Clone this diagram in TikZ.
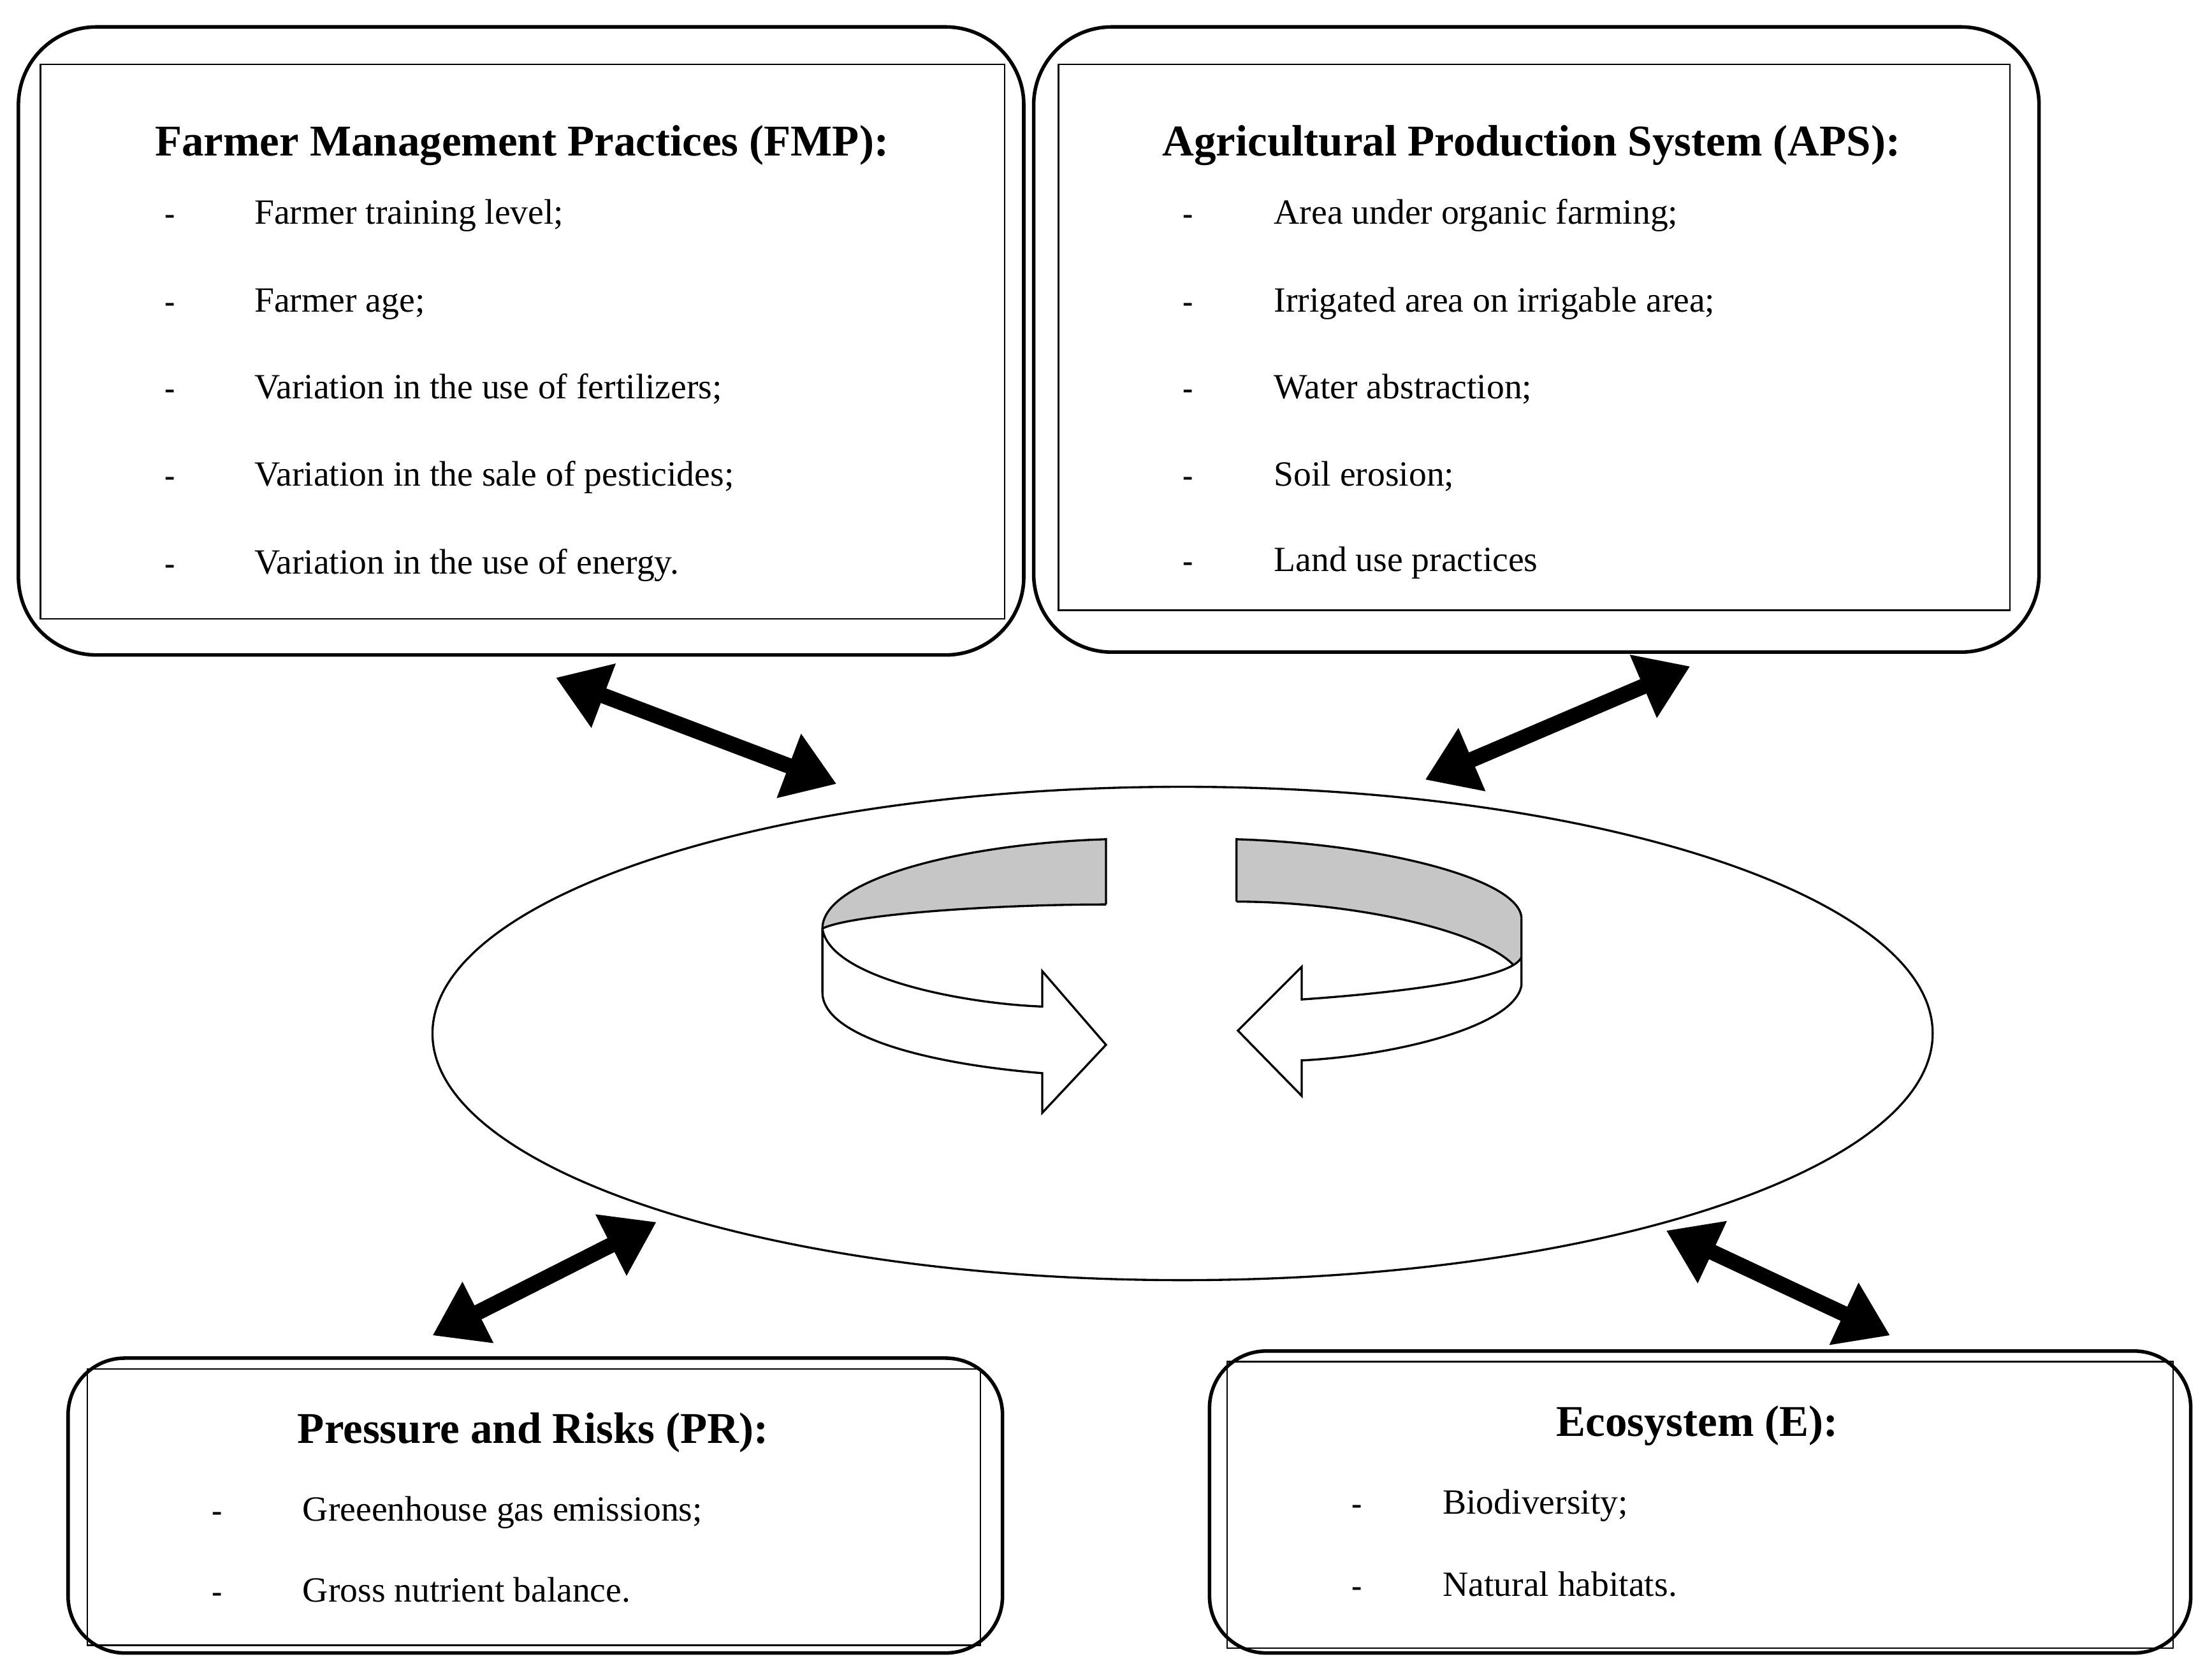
\documentclass[tikz,border=0pt]{standalone}
\usepackage{fontspec}
\setmainfont{Liberation Serif}
\usetikzlibrary{arrows.meta,shapes.geometric}
\begin{document}
\begin{tikzpicture}[x=1pt,y=-1pt,
 outer/.style={draw,line width=2.5pt,rounded corners=55pt},
 inner/.style={draw,line width=1pt},
 hd/.style={font=\fontsize{31}{35}\selectfont\bfseries,anchor=base},
 it/.style={font=\fontsize{25}{29}\selectfont,anchor=base west},
 ds/.style={font=\fontsize{22}{26}\selectfont\bfseries,anchor=base},
 dbl/.style={line width=11pt,{Triangle[length=36pt,width=46pt]}-{Triangle[length=36pt,width=46pt]}},
 band/.style={draw,line width=1.5pt,line join=miter}]
\useasboundingbox (0,0) rectangle (1560,1185);
% boxes
\draw[outer] (13,19) rectangle (722,462);
\node[inner,minimum width=680pt,minimum height=391pt,anchor=north west] (fmp) at (28,45) {};
\draw[outer] (729,19) rectangle (1438,460);
\node[inner,minimum width=671pt,minimum height=385pt,anchor=north west] (aps) at (746,45) {};
\draw[outer,rounded corners=40pt] (48,958) rectangle (707,1166);
\node[inner,minimum width=630pt,minimum height=195pt,anchor=north west] (pr) at (61,965) {};
\draw[outer,rounded corners=40pt] (853,953) rectangle (1545,1166);
\node[inner,minimum width=667pt,minimum height=202pt,anchor=north west] (eco) at (865,960) {};
% ellipse
\node[draw,line width=1.5pt,ellipse,minimum width=1058pt,minimum height=348pt,inner sep=0] (ell) at (834,729) {};
% texts FMP
\node[hd] (t1) at (368,110) {Farmer Management Practices (FMP):};
\foreach \y/\t in {150/Farmer training level;,212/Farmer age;,273/Variation in the use of fertilizers;,335/Variation in the sale of pesticides;,397/Variation in the use of energy.}{
 \node[ds] at (120,\y+8) {-}; \node[it] at (176,\y+8) {\t};}
\node[hd] (t2) at (1080,110) {Agricultural Production System (APS):};
\foreach \y/\t in {150/Area under organic farming;,212/Irrigated area on irrigable area;,273/Water abstraction;,335/Soil erosion;,395/Land use practices}{
 \node[ds] at (838,\y+8) {-}; \node[it] at (895,\y+8) {\t};}
\node[hd] (t3) at (376,1018) {Pressure and Risks (PR):};
\foreach \y/\t in {1065/Greeenhouse gas emissions;,1122/Gross nutrient balance.}{
 \node[ds] at (153,\y+8) {-}; \node[it] at (210,\y+8) {\t};}
\node[hd] (t4) at (1197,1013) {Ecosystem (E):};
\foreach \y/\t in {1060/Biodiversity;,1118/Natural habitats.}{
 \node[ds] at (957,\y+8) {-}; \node[it] at (1014,\y+8) {\t};}
% double arrows
\coordinate (a1) at (392,478); \coordinate (b1) at (590,553);
\coordinate (a2) at (1005,550); \coordinate (b2) at (1192,470);
\coordinate (a3) at (305,942); \coordinate (b3) at (463,862);
\coordinate (a4) at (1175,868); \coordinate (b4) at (1333,942);
\foreach \i in {1,2,3,4}{\draw[dbl] (a\i) -- (b\i);}
% circular arrows
\fill[gray!45] (780,592) .. controls (680,595) and (580,620) .. (580,655) .. controls (600,645) and (700,638) .. (780,638) -- cycle;
\draw[band] (780,638) -- (780,592) .. controls (680,595) and (580,620) .. (580,655);
\draw[band] (580,655) .. controls (600,645) and (700,638) .. (780,638);
\draw[band,fill=white] (580,655) .. controls (585,690) and (680,708) .. (735,710) -- (735,685) -- (780,737) -- (735,785) -- (735,757) .. controls (650,750) and (580,730) .. (580,700) -- cycle;
\fill[gray!45] (872,592) .. controls (972,595) and (1073,620) .. (1073,648) -- (1073,690) .. controls (1065,660) and (960,636) .. (872,636) -- cycle;
\draw[band] (872,636) -- (872,592) .. controls (972,595) and (1073,620) .. (1073,648);
\draw[band] (1073,690) .. controls (1065,660) and (960,636) .. (872,636);
\draw[band,fill=white] (1073,648) -- (1073,695) .. controls (1068,725) and (980,745) .. (918,748) -- (918,773) -- (873,727) -- (918,682) -- (918,705) .. controls (990,700) and (1068,690) .. (1073,675) -- cycle;
\end{tikzpicture}
\end{document}
